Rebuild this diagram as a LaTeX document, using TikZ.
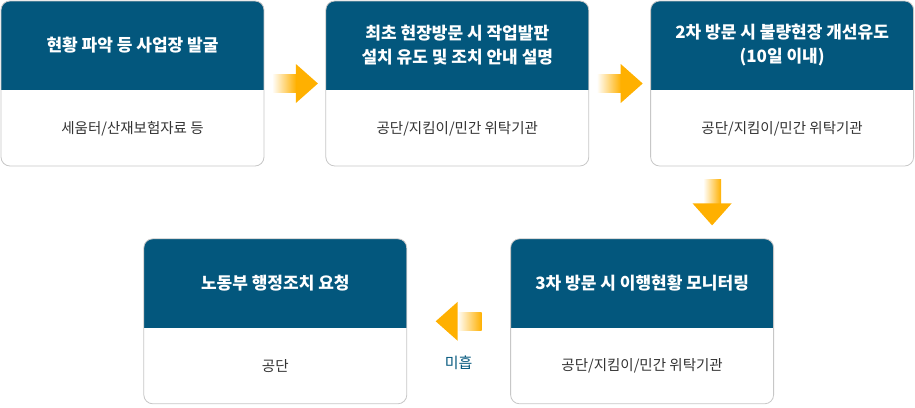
\documentclass[tikz,border=0pt]{standalone}
\usepackage{fontspec}
\setmainfont{Noto Sans CJK KR}
\usetikzlibrary{positioning, calc}
\definecolor{headblue}{HTML}{03577D}
\definecolor{flowor}{HTML}{FFB000}
\definecolor{bodygray}{HTML}{333333}

\begin{document}
\begin{tikzpicture}[
x=1pt, y=1pt,
node distance=72pt and 61pt,
every node/.style={align=center},
stage/.style={rectangle, rounded corners=9pt, draw=black!22, fill=white, line width=0.8pt, minimum width=263pt, minimum height=165pt, inner sep=0pt,
  path picture={\fill[headblue, sharp corners] (path picture bounding box.north west) rectangle ([yshift=-89pt]path picture bounding box.north east);}},
title/.style={font=\fontsize{17}{24}\selectfont\bfseries, text=white},
detail/.style={font=\fontsize{14.5}{16}\selectfont, text=bodygray},
flowarrow/.pic={
  \shade[left color=white, right color=flowor] (-23,-9) rectangle (1.5,9);
  \fill[flowor] (1,-19.5) -- (23,0) -- (1,19.5) -- cycle;
}
]

\useasboundingbox (0,0) rectangle (915,-407);

\node[stage] (scan) at (132.5,-83.5) {};
\node[stage, right=of scan] (visit1) {};
\node[stage, right=of visit1] (visit2) {};
\node[stage, below=of visit2, xshift=-140pt] (visit3) {};
\node[stage, left=103pt of visit3] (request) {};

\node[title] (scan-t) at ([yshift=-44.5pt]scan.north) {현황 파악 등 사업장 발굴};
\node[title] (visit1-t) at ([yshift=-44.5pt]visit1.north) {최초 현장방문 시 작업발판\\설치 유도 및 조치 안내 설명};
\node[title] (visit2-t) at ([yshift=-44.5pt]visit2.north) {2차 방문 시 불량현장 개선유도\\(10일 이내)};
\node[title] (visit3-t) at ([yshift=-44.5pt]visit3.north) {3차 방문 시 이행현황 모니터링};
\node[title] (request-t) at ([yshift=-44.5pt]request.north) {노동부 행정조치 요청};

\node[detail] (scan-d) at ([yshift=38pt]scan.south) {세움터/산재보험자료 등};
\node[detail] (visit1-d) at ([yshift=38pt]visit1.south) {공단/지킴이/민간 위탁기관};
\node[detail] (visit2-d) at ([yshift=38pt]visit2.south) {공단/지킴이/민간 위탁기관};
\node[detail] (visit3-d) at ([yshift=38pt]visit3.south) {공단/지킴이/민간 위탁기관};
\node[detail] (request-d) at ([yshift=38pt]request.south) {공단};

\coordinate (go1) at ($(scan.east)!0.5!(visit1.west)$);
\coordinate (go2) at ($(visit1.east)!0.5!(visit2.west)$);
\coordinate (go3) at ($(visit2.south)!0.5!(visit3.north)$);
\coordinate (back) at ($(visit3.west)!0.5!(request.east)$);

\pic at (go1) {flowarrow};
\pic at (go2) {flowarrow};
\pic[rotate=-90] at (go3) {flowarrow};
\pic[rotate=180] at (back) {flowarrow};

\node[font=\fontsize{15}{16}\selectfont, text=headblue] (short) at ([yshift=-41pt]back) {미흡};

\end{tikzpicture}
\end{document}
